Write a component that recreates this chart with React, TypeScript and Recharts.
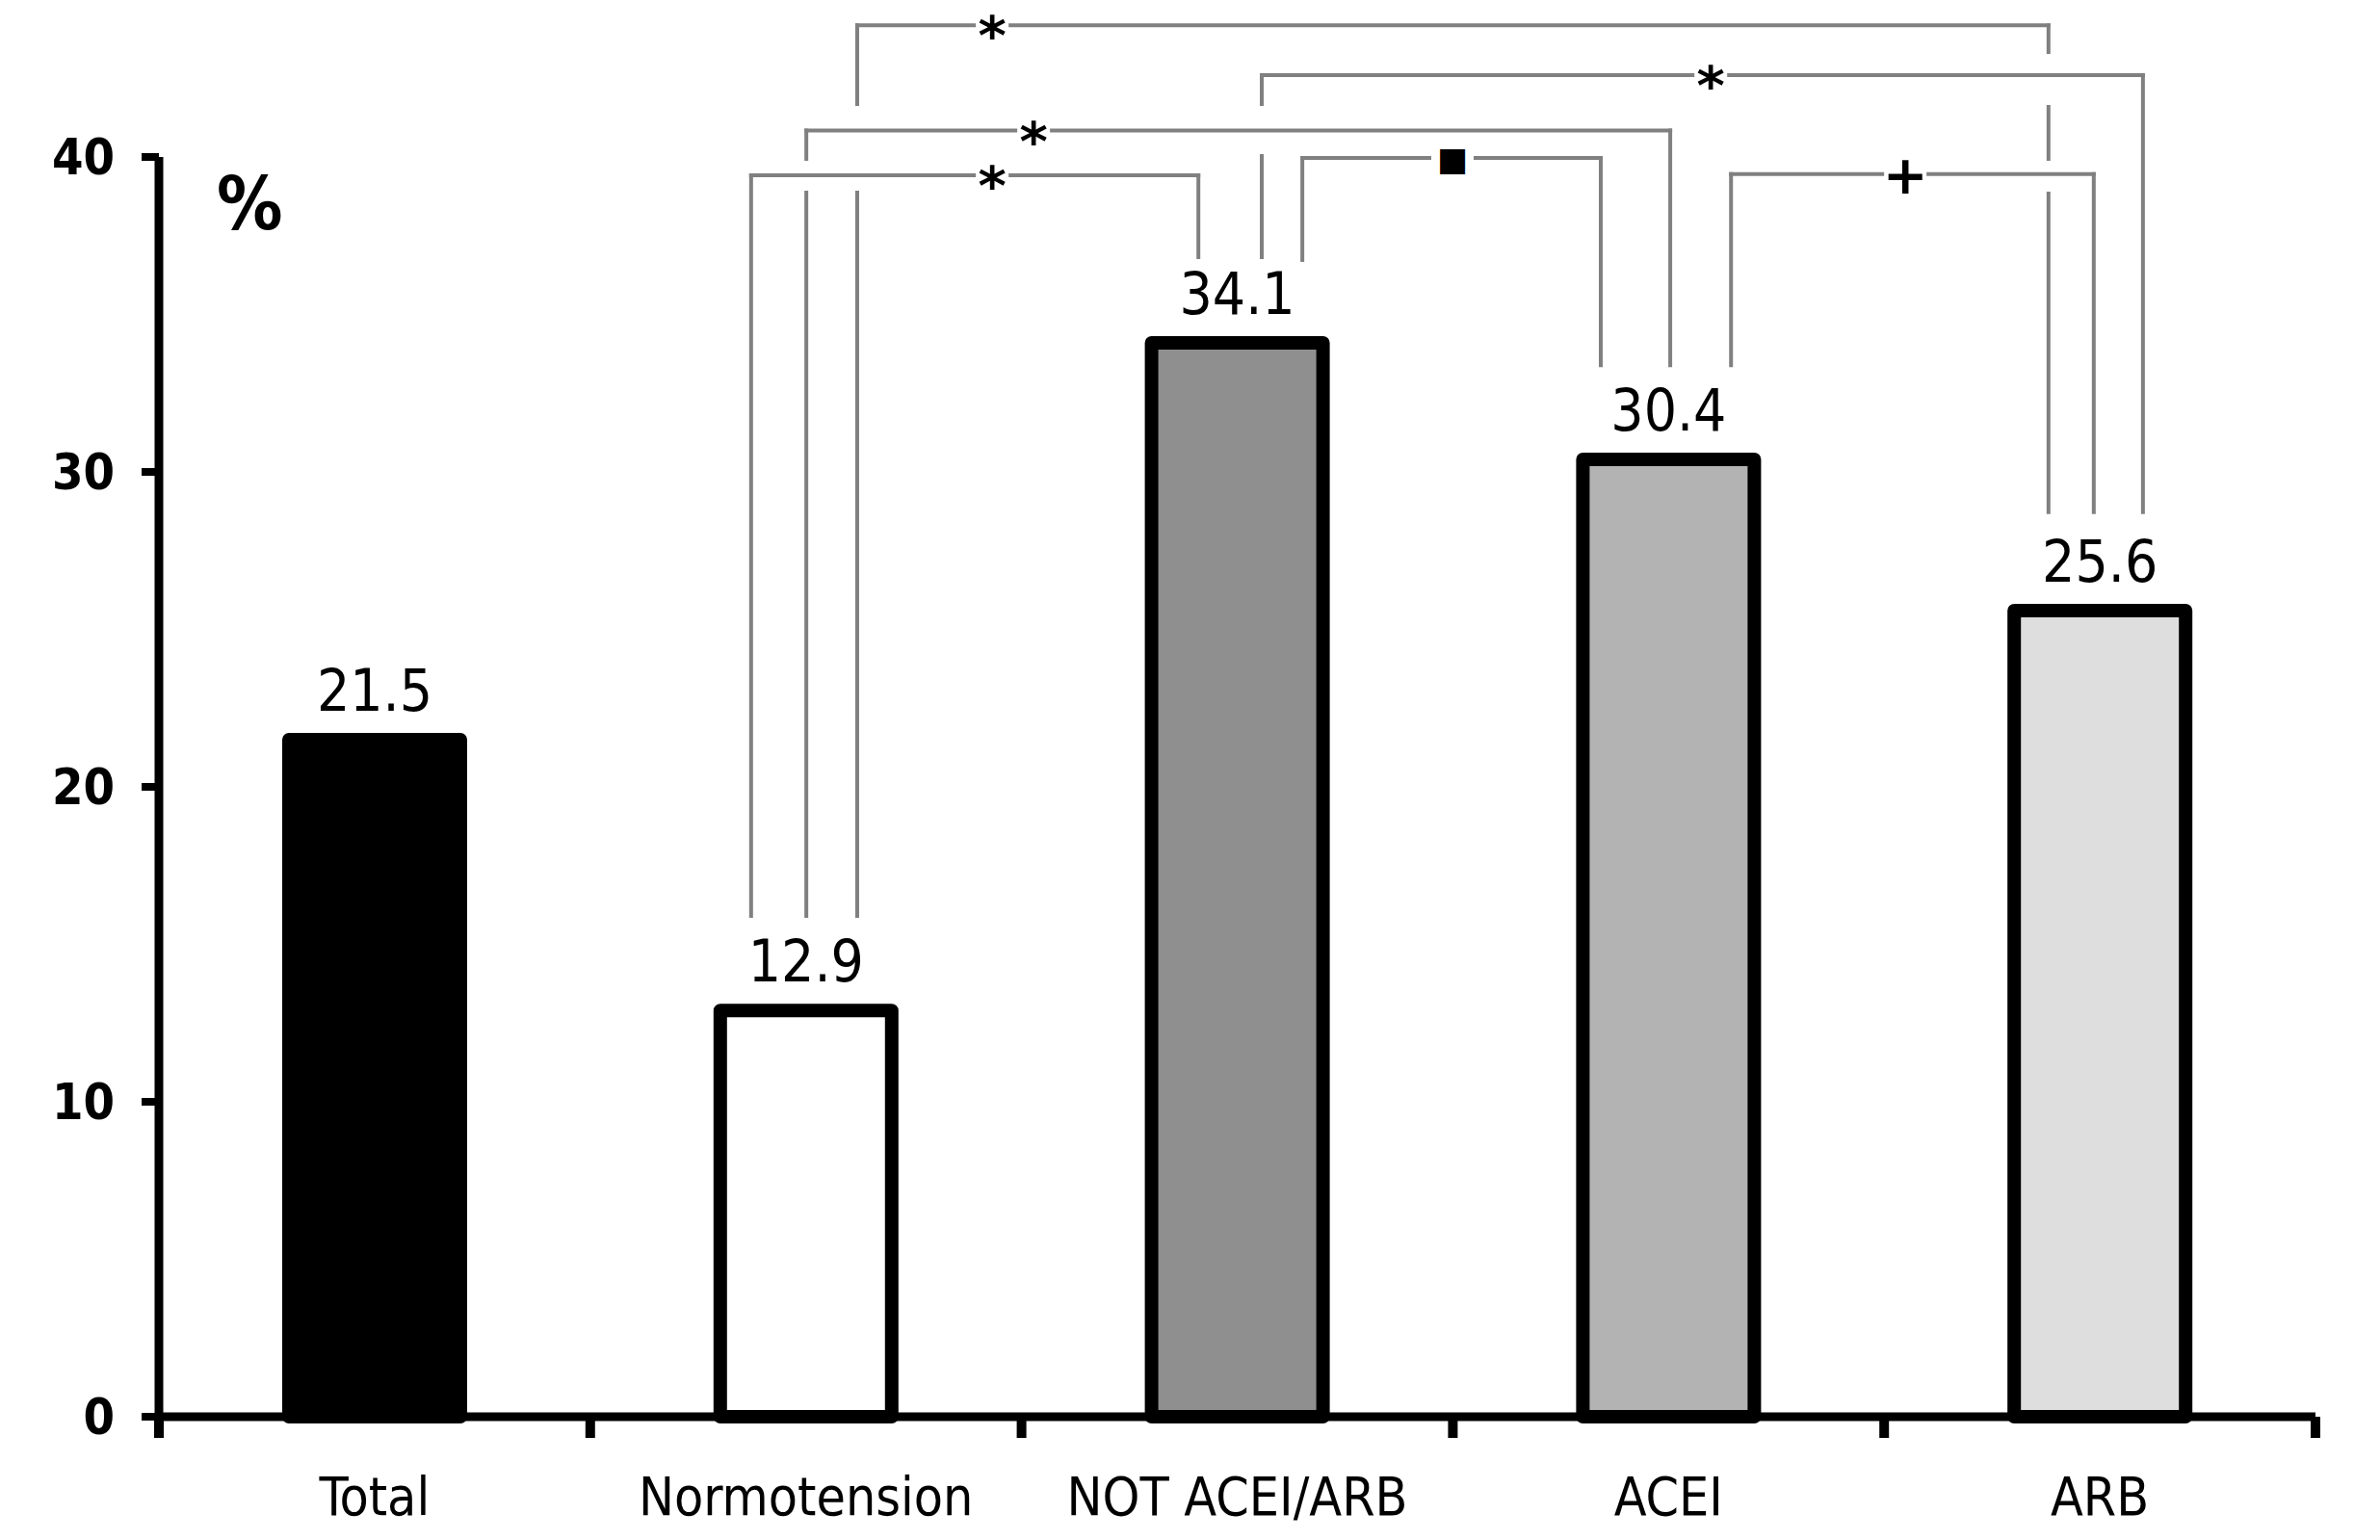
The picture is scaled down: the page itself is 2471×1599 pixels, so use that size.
import React from 'react'
import {
  BarChart, Bar, XAxis, YAxis, Cell, LabelList, Label,
  ReferenceLine, ReferenceDot
} from 'recharts'

const CATEGORIES = ['Total', 'Normotension', 'NOT ACEI/ARB', 'ACEI', 'ARB']
const VALUES = [21.5, 12.9, 34.1, 30.4, 25.6]
const FILLS = ['#000000', '#ffffff', '#8f8f8f', '#b3b3b3', '#dedede']
const Y_TICKS = [0, 10, 20, 30, 40]

// significance brackets, in axis units (x: 0..5 across the categories, y: %)
const BRACKETS = [
  { x1: 1.619, x2: 4.381, y: 44.18, mark: '*', markX: 1.932 },
  { x1: 2.557, x2: 4.6, y: 42.6, mark: '*', markX: 3.598 },
  { x1: 1.501, x2: 3.504, y: 40.84, mark: '*', markX: 2.028 },
  { x1: 1.373, x2: 2.41, y: 39.42, mark: '*', markX: 1.932 },
  { x1: 2.651, x2: 3.343, y: 39.97, mark: '■', markX: 2.999 },
  { x1: 3.645, x2: 4.486, y: 39.46, mark: '+', markX: 4.049 },
]

// bracket legs, broken where they pass other brackets
const LEGS = [
  { x: 1.373, spans: [[39.42, 15.9]] },
  { x: 1.501, spans: [[40.84, 39.94], [38.87, 15.9]] },
  { x: 1.619, spans: [[44.18, 41.68], [38.87, 15.9]] },
  { x: 2.41, spans: [[39.42, 36.82]] },
  { x: 2.557, spans: [[42.6, 41.68], [40.03, 36.82]] },
  { x: 2.651, spans: [[39.97, 36.73]] },
  { x: 3.343, spans: [[39.97, 33.39]] },
  { x: 3.504, spans: [[40.84, 33.39]] },
  { x: 3.645, spans: [[39.46, 33.39]] },
  { x: 4.381, spans: [[44.18, 43.33], [41.59, 39.94], [38.84, 28.72]] },
  { x: 4.486, spans: [[39.46, 28.72]] },
  { x: 4.6, spans: [[42.6, 28.72]] },
]

const NARROW = "'Liberation Sans Narrow', 'Arial Narrow', 'DejaVu Sans Condensed', sans-serif"
const BOLD = "'DejaVu Sans Condensed', 'DejaVu Sans', sans-serif"
const LINE = '#808080'

// bars sit at the middle of each category slot on a 0..n axis
const data = CATEGORIES.map((name, i) => ({ name, pos: i + 0.5, value: VALUES[i] }))
const xTicks = CATEGORIES.flatMap((_, i) => [i, i + 0.5]).concat(CATEGORIES.length)

const MARK_STYLE: Record<string, { size: number; dy: number; gap: number }> = {
  '*': { size: 56, dy: 30, gap: 34 },
  '■': { size: 34, dy: 13, gap: 44 },
  '+': { size: 56, dy: 20, gap: 44 },
}

function XTick(props: any) {
  const { x, y, payload } = props
  const v = payload.value
  if (Number.isInteger(v)) {
    return <line x1={x} x2={x} y1={y} y2={y + 22} stroke="#000" strokeWidth={10} />
  }
  return (
    <text x={x} y={y + 102} textAnchor="middle" fontFamily={NARROW} fontSize={55} fill="#000">
      {CATEGORIES[Math.floor(v)]}
    </text>
  )
}

function Mark(props: any) {
  const { cx, cy, mark } = props
  const s = MARK_STYLE[mark]
  return (
    <g>
      <rect x={cx - s.gap / 2} y={cy - 8} width={s.gap} height={16} fill="#fff" />
      <text x={cx} y={cy + s.dy} textAnchor="middle" fontFamily="'DejaVu Sans', sans-serif"
        fontWeight={700} fontSize={s.size} fill="#000">
        {mark}
      </text>
    </g>
  )
}

function PercentLabel(props: any) {
  const vb = props.viewBox
  return (
    <text x={vb.x + vb.width + 60} y={vb.y + 75} fontFamily={BOLD} fontStretch="condensed"
      fontWeight={700} fontSize={76} fill="#000">
      %
    </text>
  )
}

export default function App() {
  return (
    <div style={{ position: 'absolute', left: 0, top: 0, width: 2471, height: 1599, background: '#fff' }}>
      <BarChart
        width={2471}
        height={1599}
        data={data}
        margin={{ top: 163, right: 67, bottom: 0, left: 0 }}
      >
        <XAxis
          dataKey="pos"
          type="number"
          domain={[0, CATEGORIES.length]}
          allowDataOverflow
          ticks={xTicks}
          interval={0}
          height={128}
          axisLine={{ stroke: '#000', strokeWidth: 9 }}
          tickLine={false}
          tickSize={0}
          tickMargin={0}
          tick={(p: any) => <XTick {...p} />}
        />
        <YAxis
          width={165}
          domain={[0, 40]}
          ticks={Y_TICKS}
          interval={0}
          axisLine={{ stroke: '#000', strokeWidth: 9 }}
          tickLine={{ stroke: '#000', strokeWidth: 8 }}
          tickSize={18}
          tickMargin={28}
          tick={{ fill: '#000', fontSize: 52, fontWeight: 700, fontFamily: BOLD, fontStretch: 'condensed' }}
          label={<Label content={PercentLabel} />}
        />
        <Bar
          dataKey="value"
          barSize={178}
          stroke="#000"
          strokeWidth={14}
          strokeLinejoin="round"
          isAnimationActive={false}
        >
          {data.map((d, i) => <Cell key={d.name} fill={FILLS[i]} />)}
          <LabelList
            dataKey="value"
            position="top"
            offset={30}
            formatter={(v: any) => Number(v).toFixed(1)}
            style={{ fontFamily: NARROW, fontSize: 60, fill: '#000' }}
          />
        </Bar>
        {LEGS.flatMap((leg, i) =>
          leg.spans.map(([top, bottom], j) => (
            <ReferenceLine
              key={`leg-${i}-${j}`}
              segment={[{ x: leg.x, y: top }, { x: leg.x, y: bottom }]}
              stroke={LINE}
              strokeWidth={4}
              strokeLinecap="square"
              ifOverflow="visible"
            />
          ))
        )}
        {BRACKETS.map((b, i) => (
          <ReferenceLine
            key={`br-${i}`}
            segment={[{ x: b.x1, y: b.y }, { x: b.x2, y: b.y }]}
            stroke={LINE}
            strokeWidth={4}
            strokeLinecap="square"
            ifOverflow="visible"
          />
        ))}
        {BRACKETS.map((b, i) => (
          <ReferenceDot
            key={`mk-${i}`}
            x={b.markX}
            y={b.y}
            r={1}
            ifOverflow="visible"
            shape={(p: any) => <Mark {...p} mark={b.mark} />}
          />
        ))}
      </BarChart>
    </div>
  )
}
